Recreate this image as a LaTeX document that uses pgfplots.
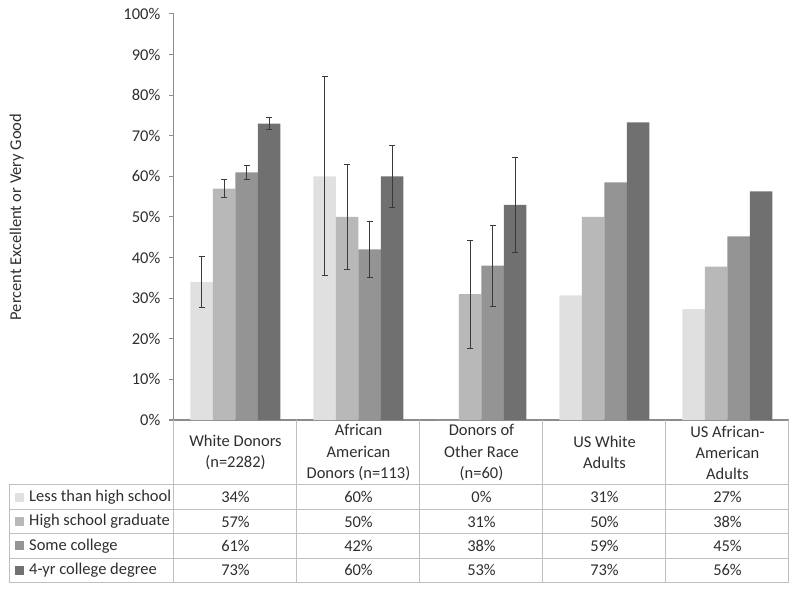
\documentclass[border=0pt]{standalone}
\usepackage{fontspec}
\setmainfont{Carlito}
\usepackage{pgfplots}
\pgfplotsset{compat=1.18}

\definecolor{c1}{HTML}{E0E0E0}
\definecolor{c2}{HTML}{B8B8B8}
\definecolor{c3}{HTML}{949494}
\definecolor{c4}{HTML}{707070}
\definecolor{axisgray}{HTML}{8C8C8C}
\definecolor{gridgray}{HTML}{BFBFBF}
\definecolor{errgray}{HTML}{3A3A3A}
\definecolor{txt}{HTML}{2E2E2E}

% 1px of the reference = 0.75pt
\begin{document}
\begin{tikzpicture}[font=\fontsize{12.35}{15.8}\selectfont, text=txt]
\begin{axis}[
  width=461.25pt, height=304.5pt, scale only axis,
  xmin=0.5, xmax=5.5, ymin=0, ymax=100,
  axis x line*=bottom, axis y line*=left,
  axis line style={axisgray, line width=0.75pt},
  clip=false,
  xtick={1,2,3,4,5},
  xticklabels={{White Donors\\(n=2282)},
               {African\\American\\Donors (n=113)},
               {Donors of\\Other Race\\(n=60)},
               {US White\\Adults},
               {US African-\\American\\Adults}},
  xticklabel style={anchor=center, align=center, yshift=-20.65pt},
  major x tick style={draw=none},
  ytick={0,10,...,100},
  yticklabel={\pgfmathprintnumber{\tick}\%},
  yticklabel style={xshift=-3pt},
  /pgf/number format/assume math mode=true,
  tick align=outside, major tick length=3.75pt,
  major y tick style={axisgray, line width=0.75pt},
  ylabel={Percent Excellent or Very Good},
  every axis y label/.style={at={(rel axis cs:0,0.5)}, xshift=-118pt, rotate=90, anchor=center},
  ybar=0pt, bar width=16.875pt,
  error bars/error bar style={errgray, line width=0.75pt},
  error bars/error mark options={errgray, rotate=90, mark size=2.25pt, line width=0.75pt},
]
% Less than high school
\addplot[fill=c1, draw=none, bar shift=-25.3125pt,
  error bars/.cd, y dir=both, y explicit]
  coordinates {(1,34) +- (0,6.25) (2,60) +- (0,24.5)};
\addplot[fill=c1, draw=none, bar shift=-25.3125pt, forget plot]
  coordinates {(3,0) (4,30.7) (5,27.3)};
% High school graduate
\addplot[fill=c2, draw=none, bar shift=-8.4375pt,
  error bars/.cd, y dir=both, y explicit]
  coordinates {(1,57) +- (0,2.3) (2,50) +- (0,13) (3,31) +- (0,13.3)};
\addplot[fill=c2, draw=none, bar shift=-8.4375pt, forget plot]
  coordinates {(4,50) (5,37.8)};
% Some college
\addplot[fill=c3, draw=none, bar shift=8.4375pt,
  error bars/.cd, y dir=both, y explicit]
  coordinates {(1,61) +- (0,1.7) (2,42) +- (0,7) (3,38) +- (0,10)};
\addplot[fill=c3, draw=none, bar shift=8.4375pt, forget plot]
  coordinates {(4,58.5) (5,45.2)};
% 4-yr college degree
\addplot[fill=c4, draw=none, bar shift=25.3125pt,
  error bars/.cd, y dir=both, y explicit]
  coordinates {(1,73) +- (0,1.4) (2,60) +- (0,7.7) (3,53) +- (0,11.7)};
\addplot[fill=c4, draw=none, bar shift=25.3125pt, forget plot]
  coordinates {(4,73.3) (5,56.3)};

% data table grid
\pgfplotsinvokeforeach{0.5,1.5,2.5,3.5,4.5,5.5}{
  \draw[gridgray, line width=0.75pt] (axis cs:#1,0) -- (axis cs:#1,-40.1);
}
\draw[gridgray, line width=0.75pt] (axis cs:-0.841,-16) -- (axis cs:-0.841,-40.1);
\pgfplotsinvokeforeach{-16,-22,-28,-34,-40.1}{
  \draw[gridgray, line width=0.75pt] (axis cs:-0.841,#1) -- (axis cs:5.5,#1);
}

% legend keys
\node[fill=c1, minimum size=6.75pt, inner sep=0pt] at (axis cs:-0.756,-19) {};
\node[fill=c2, minimum size=6.75pt, inner sep=0pt] at (axis cs:-0.756,-25) {};
\node[fill=c3, minimum size=6.75pt, inner sep=0pt] at (axis cs:-0.756,-31) {};
\node[fill=c4, minimum size=6.75pt, inner sep=0pt] at (axis cs:-0.756,-37.05) {};
\node[anchor=west, inner sep=0pt] at (axis cs:-0.679,-19) {Less than high school};
\node[anchor=west, inner sep=0pt] at (axis cs:-0.679,-25) {High school graduate};
\node[anchor=west, inner sep=0pt] at (axis cs:-0.679,-31) {Some college};
\node[anchor=west, inner sep=0pt] at (axis cs:-0.679,-37.05) {4-yr college degree};

% table values
\node at (axis cs:1,-19) {34\%};
\node at (axis cs:2,-19) {60\%};
\node at (axis cs:3,-19) {0\%};
\node at (axis cs:4,-19) {31\%};
\node at (axis cs:5,-19) {27\%};
\node at (axis cs:1,-25) {57\%};
\node at (axis cs:2,-25) {50\%};
\node at (axis cs:3,-25) {31\%};
\node at (axis cs:4,-25) {50\%};
\node at (axis cs:5,-25) {38\%};
\node at (axis cs:1,-31) {61\%};
\node at (axis cs:2,-31) {42\%};
\node at (axis cs:3,-31) {38\%};
\node at (axis cs:4,-31) {59\%};
\node at (axis cs:5,-31) {45\%};
\node at (axis cs:1,-37.05) {73\%};
\node at (axis cs:2,-37.05) {60\%};
\node at (axis cs:3,-37.05) {53\%};
\node at (axis cs:4,-37.05) {73\%};
\node at (axis cs:5,-37.05) {56\%};

% canvas of the reference
\path (rel axis cs:0,0) ++(-130.5pt,-129pt) rectangle ++(600pt,444pt);
\end{axis}
\end{tikzpicture}
\end{document}
